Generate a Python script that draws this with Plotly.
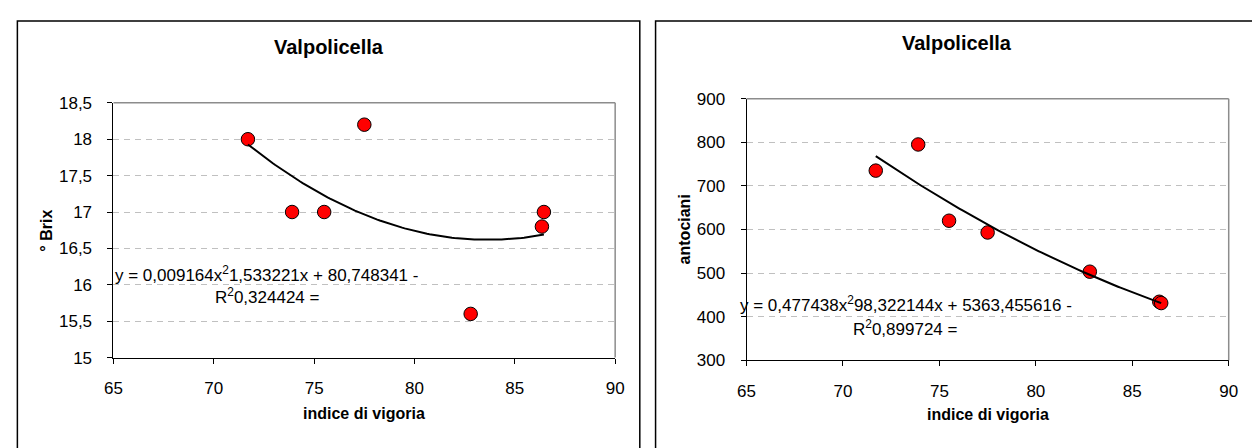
import numpy as np
import plotly.graph_objects as go

# ---------------- data ----------------
vigor_brix = [71.7, 73.9, 75.5, 77.5, 82.8, 86.45, 86.35]
brix = [18.0, 17.0, 17.0, 18.2, 15.6, 17.0, 16.8]

vigor_anto = [71.7, 73.9, 75.5, 77.5, 82.8, 86.4, 86.5]
antociani = [735, 795, 620, 593, 503, 434, 431]

# polynomial trendline coefficients (as printed on the charts)
brix_coef = [0.009164, -1.533221, 80.748341]
anto_coef = [0.477438, -98.322144, 5363.455616]

chart_title = "Valpolicella"
x_title = "indice di vigoria"
y_title_left = "° Brix"
y_title_right = "antociani"
eq_left = ["y = 0,009164x<sup>2</sup>1,533221x + 80,748341 -", "R<sup>2</sup>0,324424 ="]
eq_right = ["y = 0,477438x<sup>2</sup>98,322144x + 5363,455616 -", "R<sup>2</sup>0,899724 ="]

W, H = 1252, 448
FONT = "Liberation Sans, Arial, sans-serif"


def px(x):
    return x / W


def py(y):
    return 1 - y / H


def trend(xs, coef):
    xx = np.linspace(min(xs), max(xs), 120)
    return xx, np.polyval(coef, xx)


fig = go.Figure()

# left chart
fig.add_trace(go.Scatter(x=vigor_brix, y=brix, mode="markers", xaxis="x", yaxis="y",
                         marker=dict(color="#ff0000", size=13.5, line=dict(color="black", width=1)),
                         showlegend=False, hoverinfo="x+y"))
tx, ty = trend(vigor_brix, brix_coef)
fig.add_trace(go.Scatter(x=tx, y=ty, mode="lines", xaxis="x", yaxis="y",
                         line=dict(color="black", width=2), showlegend=False, hoverinfo="skip"))

# right chart
fig.add_trace(go.Scatter(x=vigor_anto, y=antociani, mode="markers", xaxis="x2", yaxis="y2",
                         marker=dict(color="#ff0000", size=13.5, line=dict(color="black", width=1)),
                         showlegend=False, hoverinfo="x+y"))
tx2, ty2 = trend(vigor_anto, anto_coef)
fig.add_trace(go.Scatter(x=tx2, y=ty2, mode="lines", xaxis="x2", yaxis="y2",
                         line=dict(color="black", width=2), showlegend=False, hoverinfo="skip"))

tickfont = dict(family=FONT, size=17, color="black")

common_x = dict(range=[65, 90], dtick=5, tick0=65, showgrid=False, zeroline=False,
                showline=True, linecolor="black", linewidth=1,
                ticks="outside", ticklen=5, tickcolor="black", tickfont=tickfont,
                ticklabelstandoff=10)
common_y = dict(showgrid=True, gridcolor="#c0c0c0", griddash="6px,5px", gridwidth=1,
                zeroline=False, showline=True, linecolor="black", linewidth=1,
                ticks="outside", ticklen=5, tickcolor="black", tickfont=tickfont,
                ticklabelstandoff=12)

fig.update_layout(
    width=W, height=H, autosize=False,
    margin=dict(l=0, r=0, t=0, b=0),
    paper_bgcolor="white", plot_bgcolor="white",
    separators=",.",
    font=dict(family=FONT, color="black"),
    xaxis=dict(domain=[px(106), px(615)], anchor="y", **common_x),
    yaxis=dict(domain=[py(364), py(98)], anchor="x", range=[15, 18.5], dtick=0.5, tick0=15, **common_y),
    xaxis2=dict(domain=[px(748.3), px(1237.5)], anchor="y2", **common_x),
    yaxis2=dict(domain=[py(366.7), py(93.7)], anchor="x2", range=[300, 900], dtick=100, tick0=300, **common_y),
)

shapes = []
# outer chart boxes
shapes.append(dict(type="rect", xref="paper", yref="paper", x0=px(8.5), x1=px(640), y0=-0.2, y1=py(12.5),
                   line=dict(color="black", width=1.5), fillcolor="rgba(0,0,0,0)", layer="below"))
shapes.append(dict(type="rect", xref="paper", yref="paper", x0=px(656), x1=px(1267), y0=-0.2, y1=py(12.5),
                   line=dict(color="black", width=1.5), fillcolor="rgba(0,0,0,0)", layer="below"))
# gray top/right plot borders
for xa, ya in (("x", "y"), ("x2", "y2")):
    shapes.append(dict(type="line", xref=f"{xa} domain", yref=f"{ya} domain", x0=0, x1=1, y0=1, y1=1,
                       line=dict(color="#8c8c8c", width=1.5)))
    shapes.append(dict(type="line", xref=f"{xa} domain", yref=f"{ya} domain", x0=1, x1=1, y0=0, y1=1,
                       line=dict(color="#8c8c8c", width=1.5)))
fig.update_layout(shapes=shapes)

ann = []


def add_text(text, x, y, size, bold=False, angle=0):
    ann.append(dict(text=f"<b>{text}</b>" if bold else text, x=px(x), y=py(y), xref="paper", yref="paper",
                    xanchor="center", yanchor="middle", showarrow=False, textangle=angle,
                    font=dict(family=FONT, size=size, color="black")))


add_text(chart_title, 325, 40, 20, bold=True)
add_text(chart_title, 961.5, 36, 20, bold=True)
add_text(x_title, 360, 422, 16, bold=True)
add_text(x_title, 993, 423, 16, bold=True)
add_text(y_title_left, 38, 231, 16, bold=True, angle=-90)
add_text(y_title_right, 685, 230, 16, bold=True, angle=-90)
add_text(eq_left[0], 261.5, 277, 17)
add_text(eq_left[1], 262, 300, 17)
add_text(eq_right[0], 909.7, 308, 17)
add_text(eq_right[1], 909.7, 333, 17)
fig.update_layout(annotations=ann)

fig.write_html("out.html")
